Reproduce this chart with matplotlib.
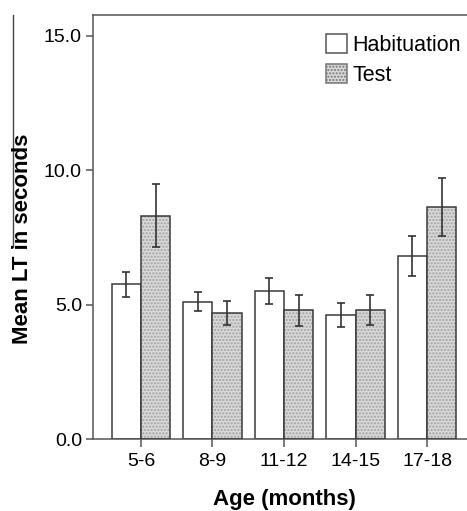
import numpy as np
import matplotlib
matplotlib.use("Agg")
import matplotlib.pyplot as plt
from matplotlib.patches import Patch
from matplotlib.lines import Line2D

plt.rcParams['font.family'] = ['Liberation Sans', 'DejaVu Sans']

# data
ages = ["5-6", "8-9", "11-12", "14-15", "17-18"]
habituation = [5.76, 5.11, 5.51, 4.61, 6.81]
habituation_err = [0.47, 0.36, 0.48, 0.44, 0.75]
test = [8.31, 4.68, 4.79, 4.80, 8.65]
test_err = [1.17, 0.45, 0.57, 0.57, 1.08]

W, H = 467, 511
fig = plt.figure(figsize=(W / 100, H / 100), dpi=100)
ax = fig.add_axes([93 / W, (H - 439) / H, (475 - 93) / W, (439 - 15) / H])

x = np.arange(len(ages))
bw = 0.41
edge = '#3a3a3a'
fill = '#d8d8d8'

# habituation: white bars
ax.bar(x - bw, habituation, bw, align='edge', color='white',
       edgecolor=edge, linewidth=1.1, zorder=2)
# test: stippled bars (hatch first, outline on top)
ax.bar(x, test, bw, align='edge', color=fill, edgecolor='#a0a0a0',
       hatch='.....', linewidth=0, zorder=2)
ax.bar(x, test, bw, align='edge', color='none', edgecolor=edge,
       linewidth=1.1, zorder=3)

ax.errorbar(x - bw / 2, habituation, yerr=habituation_err, fmt='none',
            ecolor='#333333', elinewidth=1.2, capsize=2.6, capthick=1.2, zorder=4)
ax.errorbar(x + bw / 2, test, yerr=test_err, fmt='none',
            ecolor='#333333', elinewidth=1.2, capsize=2.6, capthick=1.2, zorder=4)

ax.set_xlim(-0.67, 4.67)
ax.set_ylim(0, 15.78)
ax.set_yticks([0, 5, 10, 15])
ax.set_yticklabels(["0.0", "5.0", "10.0", "15.0"])
ax.set_xticks(x)
ax.set_xticklabels(ages)

for s in ax.spines.values():
    s.set_color('#555555')
    s.set_linewidth(1.1)
ax.tick_params(axis='y', length=5, width=1.1, color='#555555', labelsize=14, pad=3)
ax.tick_params(axis='x', length=6, width=1.1, color='#555555', labelsize=14, pad=4)

ax.set_xlabel("Age (months)", fontsize=16, fontweight='bold', labelpad=14)
fig.text(23 / W, 1 - 239 / H, "Mean LT in seconds", rotation=90,
         fontsize=16, fontweight='bold', ha='center', va='center')

handles = [Patch(facecolor='white', edgecolor='#555555', linewidth=1.1),
           Patch(facecolor=fill, edgecolor='#777777', hatch='.....', linewidth=1.1)]
ax.legend(handles, ["Habituation", "Test"], loc='upper left',
          bbox_to_anchor=((322 - 93) / (475 - 93), 1 - 15 / (439 - 15)),
          frameon=False, fontsize=15.5, handlelength=0.95, handleheight=0.95,
          handletextpad=0.25, labelspacing=0.38, borderaxespad=0, borderpad=0.2)

# stray frame line on the left edge of the original image
fig.add_artist(Line2D([13 / W, 13 / W], [1 - 15 / H, 1 - 247 / H],
                      color='#444444', linewidth=1.0))

fig.savefig("out.png", dpi=100)
